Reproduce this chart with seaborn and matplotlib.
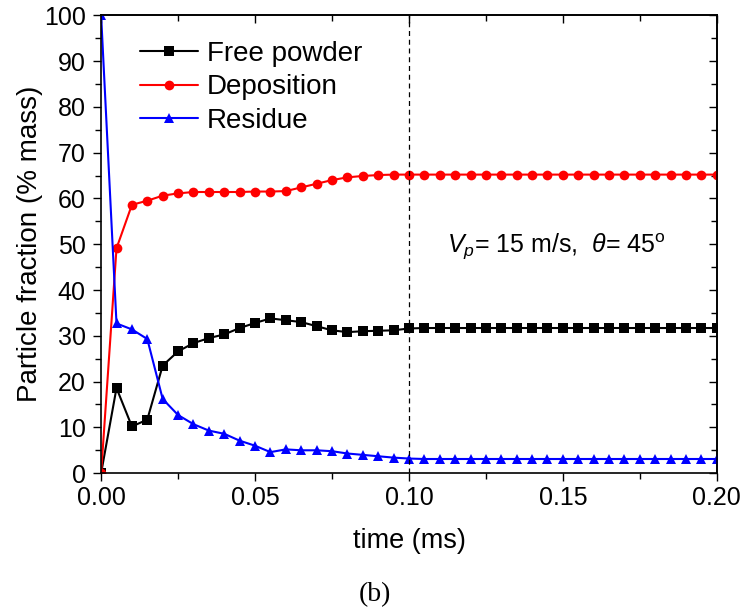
import matplotlib
matplotlib.use("Agg")
import matplotlib.pyplot as plt
import seaborn as sns
import pandas as pd
from matplotlib.ticker import MultipleLocator, FuncFormatter, NullFormatter

time_ms = [0.000, 0.005, 0.010, 0.015, 0.020, 0.025, 0.030, 0.035, 0.040, 0.045,
           0.050, 0.055, 0.060, 0.065, 0.070, 0.075, 0.080, 0.085, 0.090, 0.095,
           0.100, 0.105, 0.110, 0.115, 0.120, 0.125, 0.130, 0.135, 0.140, 0.145,
           0.150, 0.155, 0.160, 0.165, 0.170, 0.175, 0.180, 0.185, 0.190, 0.195,
           0.200]

free_powder = [0, 18.6, 10.2, 11.7, 23.5, 26.6, 28.4, 29.5, 30.3, 31.7,
               32.8, 33.8, 33.4, 33.0, 32.1, 31.2, 30.8, 31.0, 31.1, 31.2,
               31.6, 31.7, 31.7, 31.7, 31.7, 31.7, 31.7, 31.7, 31.7, 31.7,
               31.7, 31.7, 31.7, 31.7, 31.7, 31.7, 31.7, 31.7, 31.7, 31.7,
               31.7]

deposition = [0, 49.1, 58.6, 59.5, 60.6, 61.1, 61.4, 61.4, 61.4, 61.4,
              61.5, 61.5, 61.6, 62.4, 63.2, 64.0, 64.6, 64.9, 65.1, 65.2,
              65.2, 65.2, 65.2, 65.2, 65.2, 65.2, 65.2, 65.2, 65.2, 65.2,
              65.2, 65.2, 65.2, 65.2, 65.2, 65.2, 65.2, 65.2, 65.2, 65.2,
              65.2]

residue = [100, 32.7, 31.4, 29.3, 16.2, 12.7, 10.7, 9.3, 8.6, 7.1,
           6.0, 4.6, 5.2, 5.0, 5.0, 4.8, 4.3, 4.0, 3.7, 3.4,
           3.2, 3.1, 3.1, 3.1, 3.1, 3.1, 3.1, 3.1, 3.1, 3.1,
           3.1, 3.1, 3.1, 3.1, 3.1, 3.1, 3.1, 3.1, 3.1, 3.1,
           3.1]

series_names = ["Free powder", "Deposition", "Residue"]
series_colors = ["black", "red", "blue"]
series_markers = ["s", "o", "^"]

sns.set_theme(style="ticks")
plt.rcParams['font.family'] = ['Liberation Sans', 'DejaVu Sans']
plt.rcParams['text.color'] = 'black'
plt.rcParams['mathtext.fontset'] = 'custom'
plt.rcParams['mathtext.rm'] = 'Liberation Sans'
plt.rcParams['mathtext.it'] = 'Liberation Sans:italic'

fig = plt.figure(figsize=(7.49, 6.09), dpi=100)
ax = fig.add_axes([0.135, 0.223, 0.822, 0.752])

for name, vals, col, mk in zip(series_names, [free_powder, deposition, residue],
                               series_colors, series_markers):
    df = pd.DataFrame({"t": time_ms, "v": vals})
    sns.lineplot(data=df, x="t", y="v", ax=ax, color=col, marker=mk,
                 markersize=7, markeredgewidth=0, linewidth=1.5, label=name)

ax.axvline(0.1, color="black", linestyle=(0, (4, 3)), linewidth=0.9)

ax.set_xlim(0, 0.2)
ax.set_ylim(0, 100)
ax.xaxis.set_major_locator(MultipleLocator(0.05))
ax.xaxis.set_minor_locator(MultipleLocator(0.025))
ax.yaxis.set_major_locator(MultipleLocator(10))
ax.yaxis.set_minor_locator(MultipleLocator(5))
ax.xaxis.set_major_formatter(FuncFormatter(lambda v, p: f"{v:.2f}"))
ax.tick_params(which="both", direction="out", labelsize=18, width=1.0,
               color="black", labelcolor="black")
ax.tick_params(which="major", length=6, pad=3)
ax.tick_params(which="minor", length=4)
ax.tick_params(axis="y", which="major", pad=5)
for s in ax.spines.values():
    s.set_linewidth(1.2)
    s.set_color("black")

# inward ticks on top and right
top = ax.secondary_xaxis("top")
top.xaxis.set_major_locator(MultipleLocator(0.05))
top.xaxis.set_minor_locator(MultipleLocator(0.025))
top.xaxis.set_major_formatter(NullFormatter())
top.tick_params(which="both", direction="in", color="black", width=1.0)
top.tick_params(which="major", length=6)
top.tick_params(which="minor", length=4)
right = ax.secondary_yaxis("right")
right.yaxis.set_major_locator(MultipleLocator(10))
right.yaxis.set_minor_locator(MultipleLocator(5))
right.yaxis.set_major_formatter(NullFormatter())
right.tick_params(which="both", direction="in", color="black", width=1.0)
right.tick_params(which="major", length=6)
right.tick_params(which="minor", length=4)
for sec in (top, right):
    for s in sec.spines.values():
        s.set_linewidth(1.2)
        s.set_color("black")

ax.set_xlabel("time (ms)", fontsize=19.5, color="black", labelpad=13)
ax.set_ylabel("Particle fraction (% mass)", fontsize=20, color="black", labelpad=1)

ax.text(0.1125, 49.5, r"$V_{p}$= 15 m/s,  $\theta$= 45$^{\mathrm{o}}$",
        fontsize=18, color="black", ha="left", va="center")

leg = ax.legend(loc="upper left", bbox_to_anchor=(0.045, 0.968), frameon=False,
                fontsize=20, handlelength=2.1, labelspacing=0.27,
                handletextpad=0.3, borderaxespad=0.0)
for t in leg.get_texts():
    t.set_color("black")

fig.text(0.5, 0.024, "(b)", ha="center", va="center", fontsize=20,
         family=["Liberation Serif", "DejaVu Serif"])

fig.savefig("out.png", dpi=100)
